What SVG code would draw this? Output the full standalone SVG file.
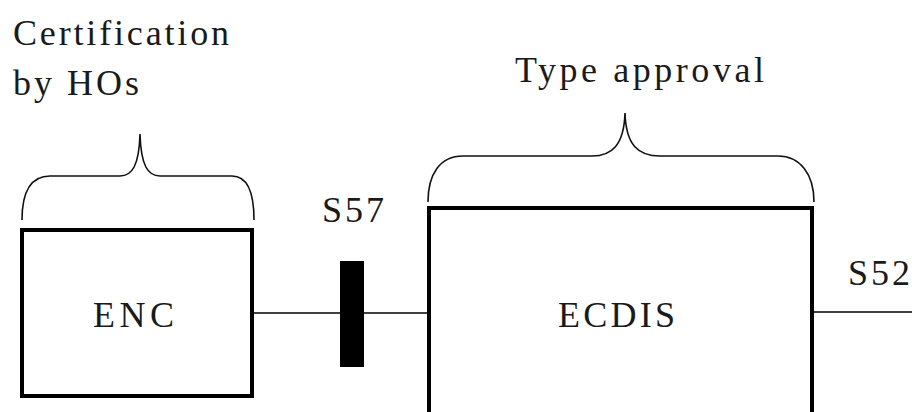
<svg xmlns="http://www.w3.org/2000/svg" width="912" height="412" viewBox="0 0 912 412">
<style>
.t{font-family:"Liberation Serif","Times New Roman",serif;font-size:36px;fill:#1a1a1a;letter-spacing:3px}
.box{fill:#fff;stroke:#000;stroke-width:4}
.brace{fill:none;stroke:#111;stroke-width:1.6}
.line{stroke:#000;stroke-width:1.6;fill:none}
</style>
<rect width="912" height="412" fill="#fff"/>
<g id="labels">
<text class="t" x="13" y="45" textLength="219">Certification</text>
<text class="t" x="13" y="95">by HOs</text>
<text class="t" x="515" y="82" textLength="252">Type approval</text>
<text class="t" x="322" y="222">S57</text>
<text class="t" x="848" y="285">S52</text>
</g>
<g id="braces">
<path class="brace" d="M22,220 C22,192 30,176 50,176 L120,176 C132,176 139,166 140,134 C141,166 148,176 160,176 L232,176 C248,176 254,192 254,220"/>
<path class="brace" d="M428,202 C428,174 440,156 463,156 L592,156 C612,156 624,145 625,113 C626,145 638,156 660,156 L778,156 C800,156 814,174 814,202"/>
</g>
<g id="connectors">
<line class="line" x1="253" y1="313" x2="428" y2="313"/>
<line class="line" x1="812" y1="312" x2="912" y2="312"/>
<rect id="s57-bar" x="340" y="261" width="24" height="106" fill="#000"/>
</g>
<g id="enc">
<rect class="box" x="22" y="230" width="230" height="166"/>
<text class="t" x="93" y="327" textLength="84">ENC</text>
</g>
<g id="ecdis">
<rect class="box" x="429" y="208" width="383" height="220"/>
<text class="t" x="558" y="327" textLength="120">ECDIS</text>
</g>
</svg>
